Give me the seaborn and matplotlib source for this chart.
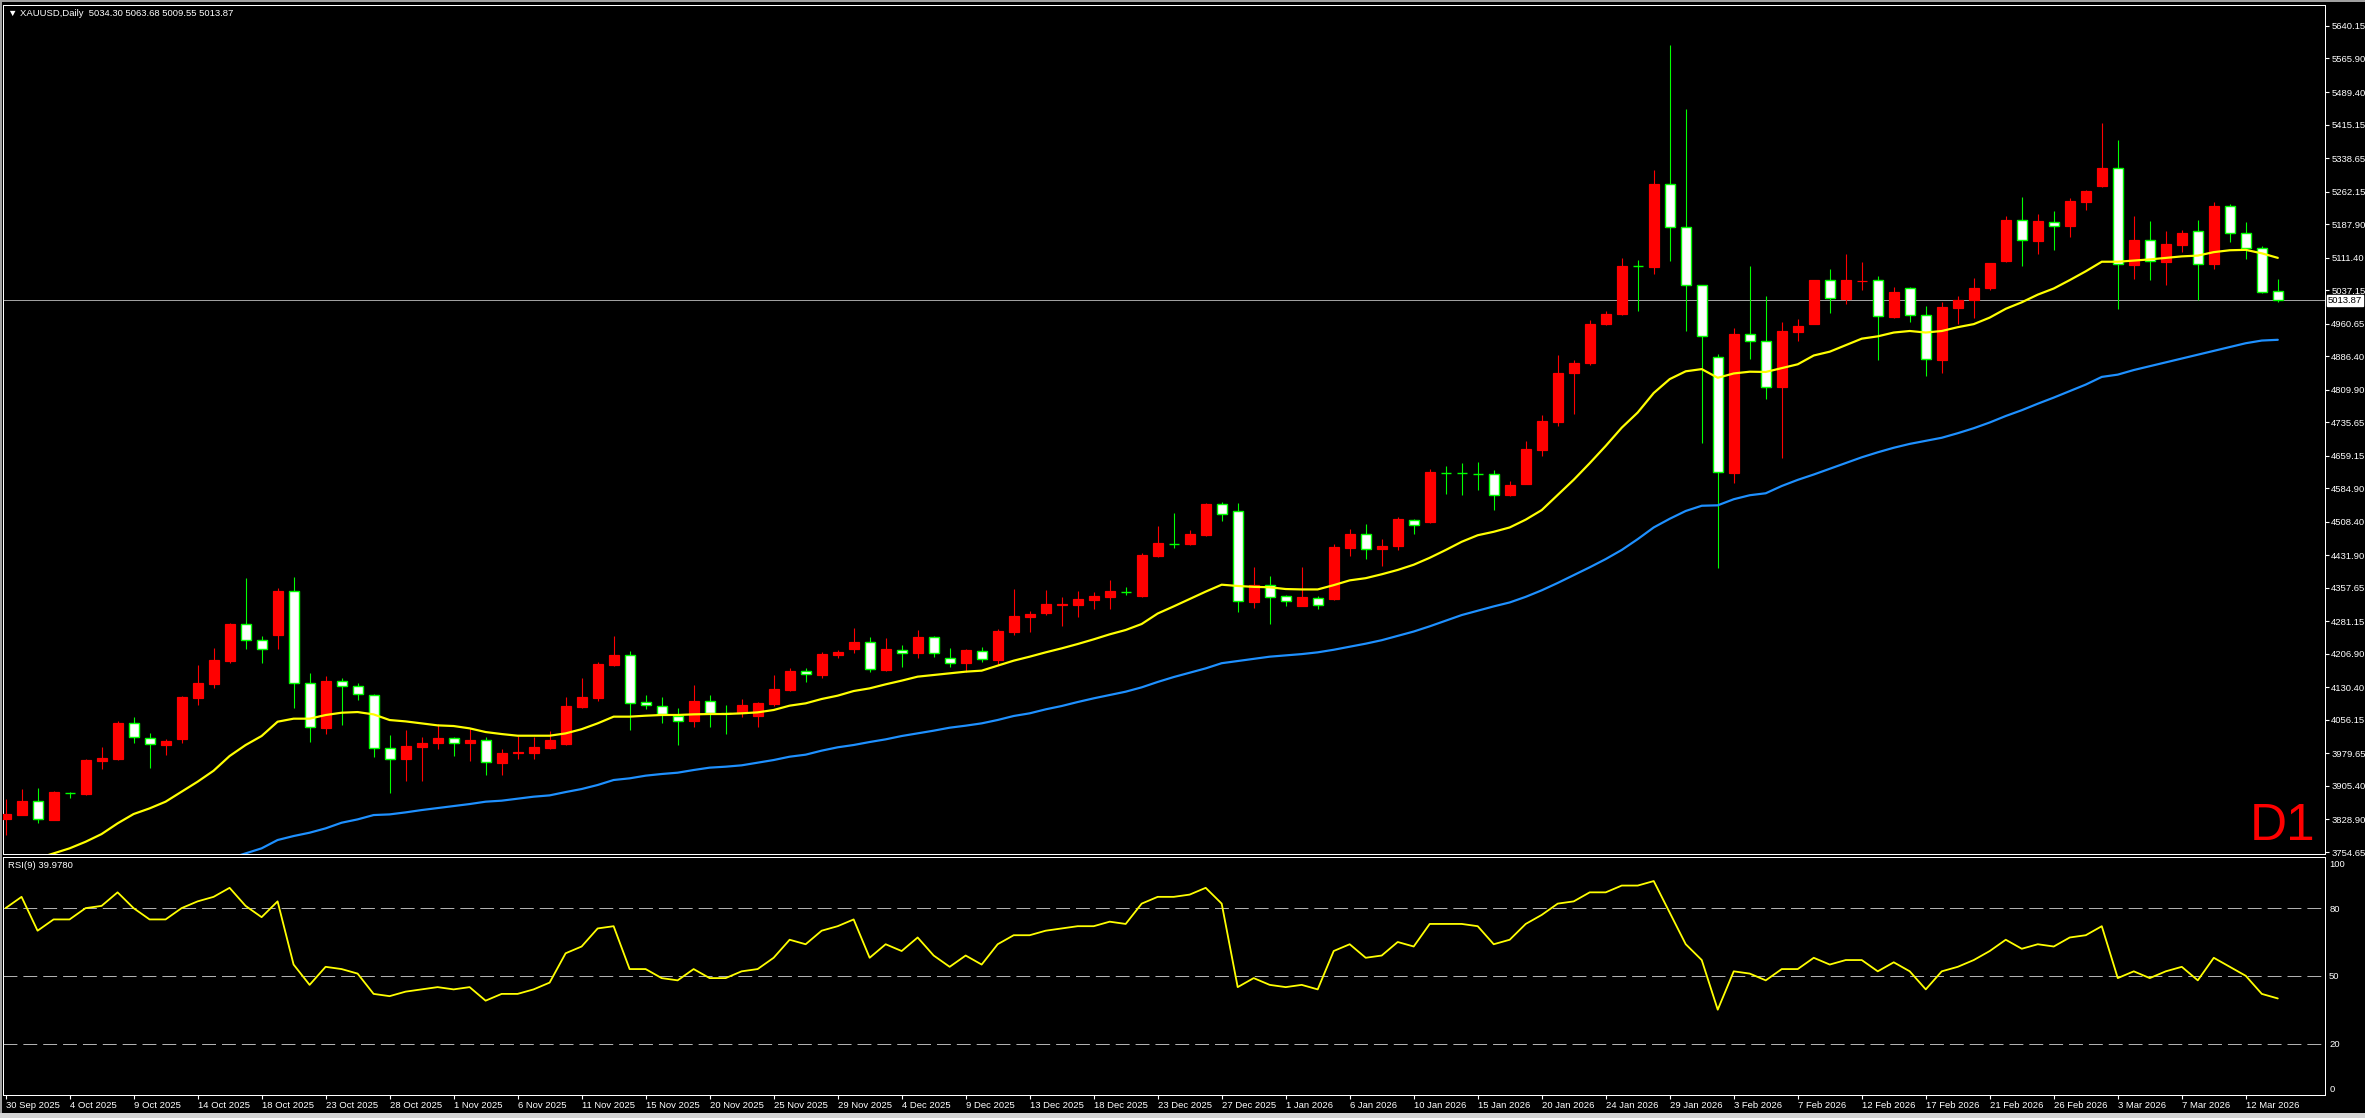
import numpy as np
import pandas as pd
import matplotlib
matplotlib.use("Agg")
import matplotlib.pyplot as plt
import seaborn as sns

sns.set_theme(style="dark")
plt.rcParams['font.family'] = ['Liberation Sans', 'DejaVu Sans']
plt.rcParams['lines.scale_dashes'] = False

# ---------------- data ----------------
opens = [3830.6, 3839, 3871, 3827.6, 3890, 3887, 3963, 3967, 4048, 4015.6,
         3999.6, 4012.5, 4107, 4138.8, 4190.6, 4274.3, 4237.7, 4249.9, 4350.4, 4139.6,
         4038.4, 4144.1, 4133.5, 4112.2, 3991.2, 3966.1, 3995, 4002.6, 4014, 4004.1,
         4009.5, 3958.5, 3979.8, 3981.3, 3992.7, 4001.9, 4084.8, 4106.9, 4181.5, 4203.5,
         4096.2, 4087.1, 4065.8, 4054, 4099.3, 4071.2, 4071.2, 4065.8, 4092.5, 4124.4,
         4167, 4158.7, 4205.1, 4218, 4233.2, 4171, 4216.5, 4208.1, 4244.7, 4198.2,
         4185.3, 4214.2, 4193, 4257.6, 4291.8, 4301, 4319, 4318.5, 4330.6, 4337.5,
         4348.2, 4339, 4430.3, 4457.9, 4457.9, 4477.7, 4548, 4532.1, 4325.2, 4364.8,
         4339.1, 4317.3, 4335.1, 4332.2, 4449, 4479.6, 4446, 4452.9, 4513.3, 4507.4,
         4620.3, 4619.3, 4617.3, 4617.3, 4569.8, 4594.5, 4671.7, 4735.1, 4846.9, 4869.7,
         4958.8, 4982.6, 5091.5, 5089.5, 5279.6, 5181.6, 5049.9, 4885.6, 4619.3, 4936,
         4920.3, 4815.5, 4942.1, 4959.6, 5060.1, 5016.4, 5058.4, 5060.1, 4975.3, 5040.9,
         4979.7, 4878.4, 4997.2, 5013.8, 5042.6, 5103.8, 5197.2, 5150.1, 5193.7, 5184.1,
         5239.2, 5275.9, 5316, 5095, 5151.8, 5102, 5141.3, 5171.9, 5097.6, 5228.7,
         5166.7, 5132.6, 5034.30]
highs = [3874.8, 3898, 3901, 3894, 3891, 3967, 3994, 4052.8, 4062, 4025.4,
         4012.5, 4111, 4181.4, 4221, 4278, 4380, 4247.6, 4357.2, 4382.3, 4162.4,
         4156.3, 4151.8, 4139.6, 4114.5, 4021.6, 4033.1, 4016.3, 4046.7, 4017.8, 4036.9,
         4016.3, 3989, 4019.4, 4017.8, 4030.8, 4109.1, 4151, 4188.3, 4247.7, 4213.5,
         4113, 4107.7, 4082.6, 4135.8, 4113, 4090.2, 4103.9, 4096.3, 4158.7, 4173.9,
         4173.9, 4210.4, 4215.7, 4265.2, 4246.2, 4242.4, 4227.2, 4261.4, 4247.7, 4219.5,
         4217.2, 4221.8, 4263.7, 4355, 4304.8, 4352.7, 4337.5, 4350.4, 4347.4, 4375.5,
         4358.8, 4436.4, 4498.8, 4528.2, 4488.6, 4551, 4553, 4551.9, 4404.4, 4384.6,
         4342, 4404.4, 4339.1, 4457.9, 4492.5, 4502.4, 4468.8, 4520.3, 4515.3, 4629.2,
         4636.1, 4642, 4646, 4626.2, 4602.4, 4693.5, 4752.9, 4889.5, 4876.6, 4968.7,
         4988.5, 5111.3, 5106.3, 5312.2, 5596.4, 5450.8, 5049.9, 4891.5, 4950.9, 5092.4,
         5023.4, 4964, 4971, 5060.1, 5086.3, 5119.5, 5101.1, 5068.8, 5045.2, 5044.4,
         5000.7, 5010.3, 5023.4, 5064.4, 5098.5, 5206, 5249.7, 5211.2, 5217.3, 5247.9,
         5265, 5418.3, 5378.9, 5206, 5194.6, 5171.9, 5175.4, 5197.2, 5239.2, 5234.8,
         5192.9, 5137, 5063.68]
lows = [3793.4, 3839, 3821.5, 3827, 3879, 3884.7, 3943, 3965, 4002.6, 3947,
        3976, 4004, 4090, 4129.7, 4185, 4218.7, 4186.8, 4218.7, 4084, 4006.4,
        4023.9, 4045.2, 4101.5, 3972.2, 3888.5, 3916.6, 3916.6, 3989.7, 3973.7, 3963.1,
        3931.1, 3930.3, 3966.1, 3966.9, 3990.4, 3999.6, 4082.5, 4100.1, 4179.2, 4033.1,
        4081.1, 4049.9, 3998.9, 4040.7, 4040.7, 4024, 4063.6, 4040.7, 4087.9, 4122,
        4143.5, 4152.6, 4198.2, 4208.1, 4164.8, 4168.6, 4176.2, 4196.7, 4200.5, 4177.7,
        4166.3, 4189.1, 4181.5, 4250, 4257.6, 4295.6, 4271.3, 4291.8, 4309.3, 4309.3,
        4341.3, 4337.5, 4427.3, 4448, 4454.9, 4476, 4510.3, 4302.4, 4312.3, 4275.7,
        4315.3, 4317.3, 4310.4, 4330.2, 4429.2, 4423.2, 4408.4, 4444, 4480.6, 4505.4,
        4572.7, 4569.8, 4581.7, 4535.1, 4566.8, 4594.5, 4658.8, 4728.1, 4754.9, 4866.8,
        4956.9, 4980.6, 4990.5, 5074.6, 5104.3, 4943, 4688.5, 4403.4, 4596.5, 4881,
        4789.3, 4653.9, 4922, 4959.6, 4985.8, 5005, 5038.2, 4878.4, 4972.6, 4964,
        4841.7, 4848.7, 4959.6, 4974.5, 5038.2, 5102, 5093.3, 5119.5, 5128.2, 5157.9,
        5219.9, 5272.4, 4994.6, 5062.7, 5060.1, 5048.7, 5123.9, 5013.8, 5086.3, 5147.4,
        5108.1, 5031, 5009.55]
closes = [3841.3, 3871, 3829, 3891.5, 3889.8, 3964.6, 3969, 4048.3, 4016.3, 4000.3,
          4008, 4108.4, 4140.3, 4192.8, 4275, 4237.7, 4217.2, 4350.4, 4139.6, 4039.1,
          4144.9, 4132.7, 4114.5, 3991.2, 3966.1, 3996.5, 4003.4, 4014, 4002.6, 4010.2,
          3959.2, 3979.8, 3982.8, 3993.5, 4010.2, 4087.8, 4107.6, 4183.8, 4204.3, 4095.5,
          4090.9, 4069.6, 4054.4, 4099.3, 4071.2, 4070.9, 4090.2, 4094, 4126.7, 4167.8,
          4160.2, 4206.6, 4211.9, 4233.2, 4171.6, 4217.2, 4208.1, 4244.7, 4208.1, 4185.3,
          4215.7, 4194.4, 4259.1, 4293.3, 4297.9, 4320.7, 4320, 4331.4, 4339, 4349.7,
          4348, 4431.8, 4459.2, 4457.7, 4480.6, 4549.9, 4525.2, 4327.2, 4364.8, 4337.1,
          4327.2, 4337.1, 4319.3, 4451, 4480.6, 4446, 4453.9, 4515.3, 4500.4, 4622.2,
          4620.1, 4619.1, 4617.1, 4569.8, 4592.5, 4673.7, 4738, 4846.9, 4871.7, 4960.8,
          4983.6, 5092.5, 5091.3, 5279.6, 5181.6, 5049.9, 4933.1, 4621.2, 4937.1, 4920.3,
          4817.2, 4943.9, 4955.2, 5060.1, 5018.1, 5060.1, 5059, 4977.1, 5033.9, 4979.7,
          4879.2, 4998.9, 5014.7, 5040.9, 5098.5, 5197.2, 5151.8, 5195.5, 5184.1, 5240.9,
          5263.6, 5316, 5096.8, 5151.8, 5103.8, 5142.2, 5168.4, 5097.6, 5228.7, 5166.7,
          5132.6, 5033.9, 5013.87]
ma_fast = [3715, 3728, 3740, 3751.5, 3763, 3778, 3795.6, 3820, 3841.3, 3854.2,
           3869.5, 3892.3, 3915.1, 3940.2, 3973.7, 3998.8, 4019.4, 4052.1, 4059, 4059,
           4067.3, 4072.6, 4074.1, 4068.8, 4055.9, 4052.8, 4048.3, 4043.7, 4042.2, 4036.9,
           4028.5, 4023.9, 4020.1, 4020.1, 4020.1, 4025.4, 4035, 4048.3, 4063.6, 4063.6,
           4065.8, 4067.4, 4067.4, 4068.9, 4069.6, 4069.6, 4071.2, 4073.4, 4078.8, 4088.7,
           4094, 4103.9, 4111.5, 4122.1, 4128.2, 4137.4, 4145.8, 4154.9, 4158.7, 4162.5,
           4166.3, 4168.6, 4180, 4191.4, 4200.5, 4210.4, 4219.5, 4229.4, 4240.1, 4251.5,
           4261.4, 4275.1, 4299, 4315.3, 4332.2, 4349, 4364.8, 4361.9, 4359.9, 4358.9,
           4354.9, 4354, 4354, 4363.8, 4374.7, 4379.7, 4388.6, 4398.5, 4410.4, 4426.2,
           4444, 4462.8, 4477.7, 4485.6, 4495.5, 4513.3, 4535.1, 4569.8, 4604.4, 4642.2,
           4681.6, 4723.2, 4757.9, 4802.4, 4834.1, 4851.9, 4856.9, 4837.1, 4847, 4851,
           4850.4, 4859.2, 4867.9, 4888, 4896.7, 4911.6, 4926.4, 4931.7, 4940.4, 4943.9,
           4940.4, 4943.9, 4952.6, 4959.6, 4974.5, 4994.6, 5009.4, 5026.9, 5040.9, 5060.1,
           5080.2, 5102, 5102, 5104.6, 5107.3, 5110.8, 5114.2, 5116, 5123.9, 5128.2,
           5129.1, 5121.2, 5110.8]
ma_slow = [np.nan] * 14 + [
           3740, 3751.5, 3763, 3782, 3791.1, 3798.7,
           3808.6, 3821.5, 3829.1, 3839, 3840.5, 3845.1, 3850.4, 3855, 3859.6, 3864.1,
           3869.5, 3871.8, 3876.3, 3880.9, 3883.9, 3891.5, 3898.4, 3907.6, 3919, 3922.8,
           3928.9, 3932.7, 3935.7, 3941.8, 3947.2, 3949.4, 3952.5, 3958.5, 3964.6, 3972.2,
           3976.8, 3986, 3993.6, 3998.9, 4005.7, 4011.8, 4019.4, 4025.5, 4031.6, 4038.4,
           4043, 4048.3, 4056, 4065.1, 4071.2, 4080.3, 4087.9, 4097, 4105.4, 4113,
           4120.6, 4130.5, 4142.8, 4154, 4163.9, 4173.8, 4185.6, 4190.6, 4195.5, 4200.5,
           4203.5, 4206.4, 4210.4, 4216.3, 4223.3, 4230.2, 4238.1, 4248, 4257.9, 4269.8,
           4282.7, 4295.5, 4305.4, 4315.3, 4324.3, 4337.1, 4352, 4368.8, 4386.6, 4404.5,
           4423.3, 4444.1, 4468.8, 4495.5, 4515.3, 4533.1, 4545, 4546, 4559.9, 4569,
           4573.5, 4590.1, 4604.1, 4616.3, 4629.4, 4642.5, 4655.6, 4667, 4677.4, 4686.2,
           4693.2, 4700.2, 4710.6, 4722, 4735.1, 4749.9, 4763.1, 4777.9, 4791.9, 4806.7,
           4821.6, 4839.1, 4844.3, 4854.8, 4863.6, 4872.3, 4881.1, 4889.8, 4898.5, 4907.2,
           4916, 4922.1, 4923.8]
rsi = [80, 85, 70, 75, 75, 80, 81, 87, 80, 75,
       75, 80, 83, 85, 89, 81, 76, 83, 55, 46,
       54, 53, 51, 42, 41, 43, 44, 45, 44, 45,
       39, 42, 42, 44, 47, 60, 63, 71, 72, 53,
       53, 49, 48, 53, 49, 49, 52, 53, 58, 66,
       64, 70, 72, 75, 58, 64, 61, 67, 59, 54,
       59, 55, 64, 68, 68, 70, 71, 72, 72, 74,
       73, 82, 85, 85, 86, 89, 82, 45, 49, 46,
       45, 46, 44, 61, 64, 58, 59, 65, 63, 73,
       73, 73, 72, 64, 66, 73, 77, 82, 83, 87,
       87, 90, 90, 92, 78, 64, 57, 35, 52, 51,
       48, 53, 53, 58, 55, 57, 57, 52, 56, 52,
       44, 52, 54, 57, 61, 66, 62, 64, 63, 67,
       68, 72, 49, 52, 49, 52, 54, 48, 58, 54,
       50, 42, 39.978]
date_labels = ["30 Sep 2025", "4 Oct 2025", "9 Oct 2025", "14 Oct 2025", "18 Oct 2025",
               "23 Oct 2025", "28 Oct 2025", "1 Nov 2025", "6 Nov 2025", "11 Nov 2025",
               "15 Nov 2025", "20 Nov 2025", "25 Nov 2025", "29 Nov 2025", "4 Dec 2025",
               "9 Dec 2025", "13 Dec 2025", "18 Dec 2025", "23 Dec 2025", "27 Dec 2025",
               "1 Jan 2026", "6 Jan 2026", "10 Jan 2026", "15 Jan 2026", "20 Jan 2026",
               "24 Jan 2026", "29 Jan 2026", "3 Feb 2026", "7 Feb 2026", "12 Feb 2026",
               "17 Feb 2026", "21 Feb 2026", "26 Feb 2026", "3 Mar 2026", "7 Mar 2026",
               "12 Mar 2026"]
price_ticks = [5640.15, 5565.90, 5489.40, 5415.15, 5338.65, 5262.15, 5187.90, 5111.40,
               5037.15, 4960.65, 4886.40, 4809.90, 4735.65, 4659.15, 4584.90, 4508.40,
               4431.90, 4357.65, 4281.15, 4206.90, 4130.40, 4056.15, 3979.65, 3905.40,
               3828.90, 3754.65]
rsi_ticks = [100, 80, 50, 20, 0]
rsi_levels = [80, 50, 20]
last_price = 5013.87
header = "\u25BC XAUUSD,Daily  5034.30 5063.68 5009.55 5013.87"
rsi_title = "RSI(9) 39.9780"

# ---------------- layout ----------------
W, H = 2365, 1118
fig = plt.figure(figsize=(W / 100, H / 100), dpi=100, facecolor='black')

def frac(x0, y0, x1, y1):
    return [x0 / W, 1 - y1 / H, (x1 - x0) / W, (y1 - y0) / H]

ax = fig.add_axes(frac(3, 5, 2325, 854))
ax2 = fig.add_axes(frac(3, 857, 2325, 1095), sharex=ax)

df = pd.DataFrame({"i": np.arange(len(closes)), "open": opens, "high": highs,
                   "low": lows, "close": closes, "ma_fast": ma_fast,
                   "ma_slow": ma_slow, "rsi": rsi})

BULL = '#ff0000'
BEAR_EDGE = '#00ff00'
px = 0.72  # one pixel in points

for a in (ax, ax2):
    a.set_facecolor('black')
    a.grid(False)
    for s in a.spines.values():
        s.set_color('white')
        s.set_linewidth(1.0 * px)

# candles
bull = df[df.close > df.open]
bear = df[df.close <= df.open]
ax.vlines(bull.i, bull.low, bull.high, color=BULL, lw=1.1 * px, zorder=2)
ax.vlines(bear.i, bear.low, bear.high, color=BEAR_EDGE, lw=1.1 * px, zorder=2)
ax.bar(bull.i, (bull.close - bull.open), bottom=bull.open, width=0.62,
       color=BULL, edgecolor=BULL, linewidth=1.2 * px, zorder=3)
ax.bar(bear.i, (bear.open - bear.close), bottom=bear.close, width=0.62,
       color='white', edgecolor=BEAR_EDGE, linewidth=1.4 * px, zorder=3)

# moving averages
sns.lineplot(data=df, x="i", y="ma_slow", ax=ax, color='#1e90ff', lw=2.2 * px,
             estimator=None, sort=False, legend=False, zorder=4)
sns.lineplot(data=df, x="i", y="ma_fast", ax=ax, color='#ffff00', lw=2.2 * px,
             estimator=None, sort=False, legend=False, zorder=5)

ax.axhline(last_price, color='#a0a0a0', lw=1.0 * px, zorder=1)

ax.set_ylim(3750.1, 5688.0)
ax.set_xlim(-0.16, 144.95)
ax.set_xlabel("")
ax.set_ylabel("")

FS = 6.8
ax.yaxis.tick_right()
ax.set_yticks(price_ticks)
ax.set_yticklabels([f"{v:.2f}" for v in price_ticks])
ax.tick_params(axis='y', colors='white', labelcolor='white', labelsize=FS,
               length=3, width=0.8, direction='out', pad=1.5, right=True, left=False)
ax.tick_params(axis='x', bottom=False, labelbottom=False)

ax.annotate(f"{last_price:.2f}", xy=(1.0, last_price), xycoords=('axes fraction', 'data'),
            xytext=(2.2, 0), textcoords='offset points', ha='left', va='center',
            fontsize=FS, color='black',
            bbox=dict(boxstyle='square,pad=0.12', facecolor='white', edgecolor='white'),
            annotation_clip=False, zorder=10)

ax.text(2315 / W, 1 - 840 / H, "D1", transform=fig.transFigure, ha='right',
        va='baseline', fontsize=37, color='#ff0000')
fig.text(8 / W, 1 - 13 / H, header, ha='left', va='center', fontsize=FS, color='white')

# RSI panel
for lv in rsi_levels:
    ax2.axhline(lv, color='#b0b0b0', lw=1.0 * px, linestyle=(0, (10, 4.3)), zorder=1)
sns.lineplot(data=df, x="i", y="rsi", ax=ax2, color='#ffff00', lw=1.8 * px,
             estimator=None, sort=False, legend=False, zorder=3)
ax2.set_ylim(-2.8, 102.66)
ax2.set_xlabel("")
ax2.set_ylabel("")
ax2.yaxis.tick_right()
ax2.set_yticks(rsi_ticks)
ax2.set_yticklabels([str(v) for v in rsi_ticks])
ax2.tick_params(axis='y', colors='white', labelcolor='white', labelsize=FS,
                length=0, pad=3, right=True, left=False)
ax2.set_xticks(np.arange(0, 4 * len(date_labels), 4))
ax2.set_xticklabels(date_labels, ha='left')
ax2.tick_params(axis='x', colors='white', labelcolor='white', labelsize=FS,
                length=3, width=0.8, direction='out', pad=1.5, bottom=True)
ax2.set_xlim(-0.16, 144.95)
fig.text(8 / W, 1 - 866 / H, rsi_title, ha='left', va='center', fontsize=FS, color='white')

# window frame
from matplotlib.patches import Rectangle
for (x0, y0, x1, y1, c) in [(0, 0, W, 2, '#a0a0a0'), (0, 0, 2, H, '#a0a0a0'),
                            (0, 1113, W, H, '#d4d4d4')]:
    fig.patches.append(Rectangle((x0 / W, 1 - y1 / H), (x1 - x0) / W, (y1 - y0) / H,
                                 transform=fig.transFigure, facecolor=c,
                                 edgecolor='none', zorder=20))

fig.savefig("out.png", dpi=100, facecolor='black')
